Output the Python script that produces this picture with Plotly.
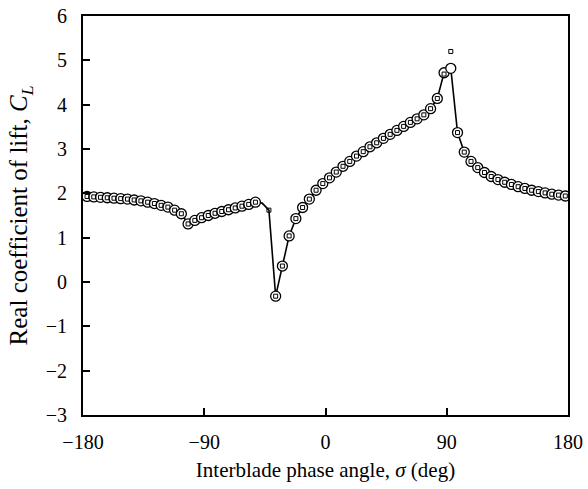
import plotly.graph_objects as go

# Interblade phase angle (deg)
sigma = [-177 + 5 * k for k in range(72)]

# Line values (circle method, with the square value where circle missing)
line_cl = [1.93, 1.92, 1.91, 1.90, 1.89, 1.88, 1.87, 1.85, 1.83, 1.80,
           1.77, 1.73, 1.69, 1.62, 1.54, 1.31, 1.39, 1.45, 1.50, 1.55,
           1.59, 1.63, 1.67, 1.71, 1.75, 1.80, 1.78, 1.62, -0.32, 0.36,
           1.04, 1.43, 1.68, 1.87, 2.07, 2.22, 2.35, 2.48, 2.61, 2.72,
           2.84, 2.94, 3.05, 3.14, 3.24, 3.33, 3.42, 3.51, 3.60, 3.68,
           3.77, 3.91, 4.14, 4.72, 4.82, 3.37, 2.93, 2.72, 2.58, 2.47,
           2.38, 2.31, 2.25, 2.20, 2.15, 2.11, 2.07, 2.04, 2.01, 1.98,
           1.96, 1.94]

# Circle series (None where absent)
circle_cl = list(line_cl)
circle_cl[26] = None
circle_cl[27] = None

# Square series
square_cl = list(line_cl)
square_cl[26] = None
square_cl[53] = 4.69
square_cl[54] = 5.20

fig = go.Figure()
fig.add_trace(go.Scatter(x=sigma, y=line_cl, mode="lines",
                         line=dict(color="black", width=1.6),
                         showlegend=False, hoverinfo="skip"))
fig.add_trace(go.Scatter(x=sigma, y=circle_cl, mode="markers",
                         marker=dict(symbol="circle", size=10, color="white",
                                     line=dict(color="black", width=1.3)),
                         showlegend=False))
fig.add_trace(go.Scatter(x=sigma, y=square_cl, mode="markers",
                         marker=dict(symbol="square-open", size=4, color="black",
                                     line=dict(color="black", width=1)),
                         showlegend=False))

font = "Liberation Serif, Times New Roman, serif"
fig.update_layout(
    width=588, height=489,
    margin=dict(l=83, r=20, t=16, b=74),
    paper_bgcolor="white", plot_bgcolor="white",
    font=dict(family=font, size=20, color="black"),
    xaxis=dict(range=[-180, 180], tickvals=[-180, -90, 0, 90, 180],
               ticks="inside", ticklen=7, tickwidth=1.5, tickcolor="black",
               showline=True, linecolor="black", linewidth=2, mirror=True,
               showgrid=False, zeroline=False, ticklabelstandoff=8,
               automargin=False,
               title=dict(text="Interblade phase angle, <i>σ</i> (deg)",
                          font=dict(size=21), standoff=10)),
    yaxis=dict(range=[-3, 6], tickvals=list(range(-3, 7)),
               ticks="inside", ticklen=7, tickwidth=1.5, tickcolor="black",
               showline=True, linecolor="black", linewidth=2, mirror=True,
               showgrid=False, zeroline=False, ticklabelstandoff=10,
               automargin=False),
    annotations=[dict(text="Real coefficient of lift, <i>C<sub>L</sub></i>",
                      textangle=-90, xref="paper", yref="paper",
                      x=-0.128, y=0.5, xanchor="center", yanchor="middle",
                      showarrow=False, font=dict(size=25))],
)

fig.write_html("out.html")
